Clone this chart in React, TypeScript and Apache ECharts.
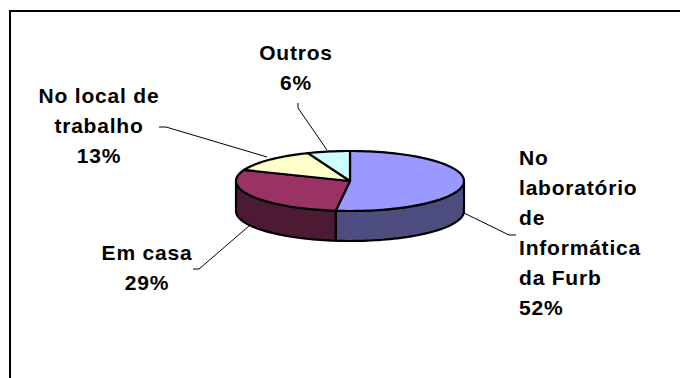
import React, { useEffect, useRef } from "react";
import * as echarts from "echarts";

// Where students use the computer, clockwise from twelve o'clock
const categories = ["No laboratório de Informática da Furb", "Em casa", "No local de trabalho", "Outros"];
const shares = [52, 29, 13, 6];
const topColors = ["#9999FF", "#993366", "#FFFFCC", "#CCFFFF"];
const wallColors = ["#4D4D80", "#4D1A33", "#808066", "#668080"];

// One label per slice: text lines, anchor, and its leader line
const labelLines = [
  ["No", "laboratório", "de", "Informática", "da Furb", "52%"],
  ["Em casa", "29%"],
  ["No local de", "trabalho", "13%"],
  ["Outros", "6%"],
];
const labelAnchors = [
  { x: 519, y: 157, align: "left" },
  { x: 147, y: 252, align: "center" },
  { x: 99, y: 95, align: "center" },
  { x: 296, y: 52, align: "center" },
];
const leaders = [
  [[464, 213], [509, 235], [516, 235]],
  [[249, 226], [199, 269], [193, 269]],
  [[267, 157], [166, 127], [159, 127]],
  [[327, 150], [298, 108], [298, 103]],
];

const PIE = { cx: 350, cy: 181, rx: 114, ry: 30, depth: 30 };
const LINE_HEIGHT = 30;

const pointAt = (deg: number, dy = 0): number[] => {
  const a = (deg * Math.PI) / 180;
  return [PIE.cx + PIE.rx * Math.sin(a), PIE.cy + dy - PIE.ry * Math.cos(a)];
};

const arcPoints = (from: number, to: number, dy = 0): number[][] => {
  const steps = Math.max(2, Math.ceil(Math.abs(to - from) / 2));
  const pts: number[][] = [];
  for (let i = 0; i <= steps; i++) pts.push(pointAt(from + ((to - from) * i) / steps, dy));
  return pts;
};

const total = shares.reduce((a, b) => a + b, 0);

export default function App() {
  const ref = useRef<HTMLDivElement>(null);

  useEffect(() => {
    document.body.style.margin = "0";
    document.body.style.background = "#fff";
    const chart = echarts.init(ref.current!, undefined, { renderer: "svg" });

    const renderItem = (params: any, api: any) => {
      const i = params.dataIndex;
      const before = shares.slice(0, i).reduce((a, b) => a + b, 0);
      const start = (before / total) * 360;
      const end = start + (api.value(0) / total) * 360;
      const outline = { stroke: "#000", lineWidth: 2.2, lineJoin: "round" };
      const children: any[] = [];

      // Outer wall: only the front half of the rim (90° to 270°) faces the viewer
      const wallFrom = Math.max(start, 90);
      const wallTo = Math.min(end, 270);
      if (wallTo > wallFrom) {
        children.push({
          type: "polygon",
          shape: {
            points: [
              ...arcPoints(wallFrom, wallTo),
              ...arcPoints(wallTo, wallFrom, PIE.depth),
            ],
          },
          style: { fill: wallColors[i], ...outline },
        });
      }

      // Top face
      children.push({
        type: "polygon",
        shape: { points: [[PIE.cx, PIE.cy], ...arcPoints(start, end)] },
        style: { fill: topColors[i], ...outline },
      });

      // Leader line
      children.push({
        type: "polyline",
        shape: { points: leaders[i] },
        style: { fill: "none", stroke: "#000", lineWidth: 1 },
      });

      // Label, one text per line
      labelLines[i].forEach((line, k) => {
        children.push({
          type: "text",
          x: labelAnchors[i].x,
          y: labelAnchors[i].y + k * LINE_HEIGHT,
          style: {
            text: line,
            fill: "#000",
            font: 'bold 21px "Liberation Sans", Arial, sans-serif',
            align: labelAnchors[i].align,
            verticalAlign: "middle",
          },
        });
      });

      return { type: "group", children };
    };

    chart.setOption({
      animation: false,
      backgroundColor: "#fff",
      graphic: [
        // Chart-area border: only the top and left edges fall inside the canvas
        {
          type: "polyline",
          shape: { points: [[10, 378], [10, 11], [680, 11]] },
          style: { fill: "none", stroke: "#000", lineWidth: 2 },
        },
      ],
      series: [
        {
          type: "custom",
          coordinateSystem: "none",
          renderItem,
          data: shares.map((v, i) => ({ name: categories[i], value: [v] })),
        },
      ],
    });

    // The labels are set slightly tracked out
    ref.current!.querySelectorAll("text").forEach((t) => t.setAttribute("letter-spacing", "0.8"));

    return () => chart.dispose();
  }, []);

  return <div ref={ref} style={{ width: 680, height: 378 }} />;
}
